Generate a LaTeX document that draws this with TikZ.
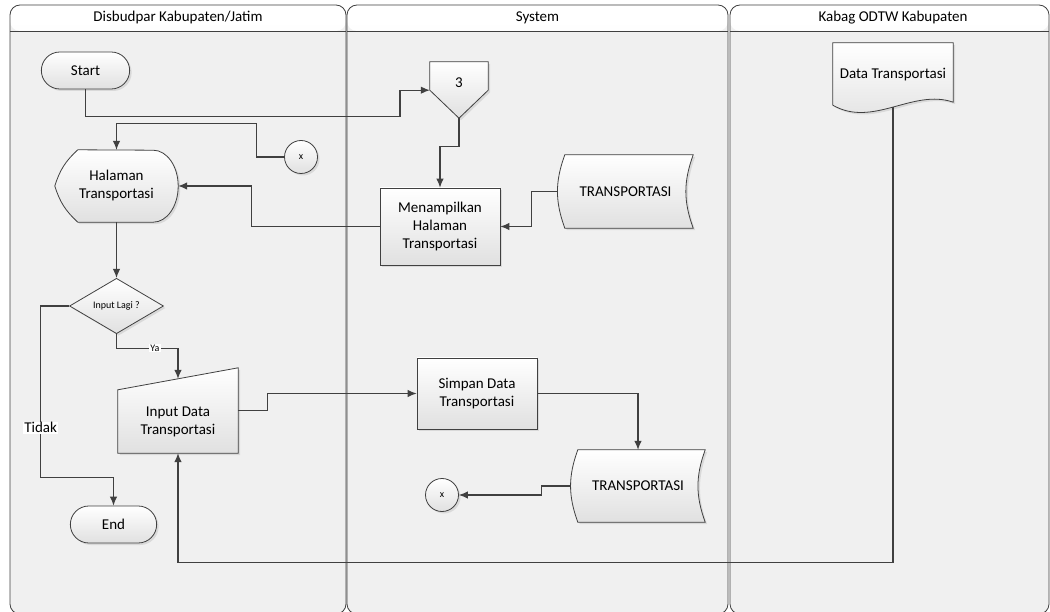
\documentclass[tikz,border=0pt]{standalone}
\usepackage{fontspec}
\setmainfont{Carlito}
\usetikzlibrary{shapes.misc,shapes.geometric,arrows.meta,calc,shadows,backgrounds}
\definecolor{linegray}{HTML}{404040}
\tikzset{>={Latex[length=9pt,width=7.5pt]}}

\begin{document}
\begin{tikzpicture}[x=1pt, y=1pt, node distance=120pt,
    every node/.style={font=\fontsize{15}{18}\selectfont, align=center},
    boxfill/.style={draw=linegray, line width=0.8pt, top color=white, bottom color=black!12,
      drop shadow={shadow xshift=2pt, shadow yshift=-2pt, opacity=0.2}},
    terminal/.style={rounded rectangle, boxfill, minimum width=95pt, minimum height=37pt},
    process/.style={rectangle, boxfill, minimum width=120pt},
    decision/.style={diamond, boxfill, inner sep=0pt, minimum width=94pt, minimum height=55pt, font=\fontsize{10}{12}\selectfont},
    onpage/.style={circle, boxfill, minimum size=33pt, inner sep=0pt, font=\fontsize{10}{12}\selectfont},
    textonly/.style={rectangle, inner sep=0pt},
    flow/.style={draw=linegray, line width=1.1pt, ->},
    tag/.style={fill=white, inner sep=1pt},
    lane/.style={draw=linegray, line width=0.8pt, rounded corners=10pt, fill=black!6,
      path picture={\shade[top color=white, bottom color=black!6]
        (path picture bounding box.north west) rectangle ([yshift=-26pt]path picture bounding box.north east);}}]
    \useasboundingbox (0,0) rectangle (1050,-612);

    % Lanes
    \begin{scope}[on background layer]
        \draw[lane] (10,-5) rectangle (346,-614);
        \draw[lane] (347,-5) rectangle (728,-614);
        \draw[lane] (730,-5) rectangle (1049,-614);
    \end{scope}
    \node (dis) at (178,-18) {Disbudpar Kabupaten/Jatim};
    \node (sys) at (537.5,-18) {System};
    \node (kab) at (893,-18) {Kabag ODTW Kabupaten};
    \draw[linegray, line width=0.8pt] (10,-31) -- (346,-31) (347,-31) -- (728,-31) (730,-31) -- (1049,-31);

    % Nodes
    \node[terminal] (start) at (85.5,-70.5) {Start};
    \node[textonly, minimum width=123pt, minimum height=72pt] (halaman) [below of=start, xshift=31pt, yshift=4.5pt] {Halaman\\Transportasi};
    \node[decision] (lagi) [below of=halaman] {Input Lagi ?};
    \node[textonly, minimum width=120pt, minimum height=63pt] (input) [below of=lagi, xshift=61.5pt, yshift=4.5pt] {Input Data\\Transportasi};
    \node[terminal, minimum width=93pt] (end) [below of=input, xshift=-64.5pt, yshift=17pt] {End};
    \node[onpage] (x1) [right of=start, xshift=95.5pt, yshift=-86.5pt] {x};
    \node[textonly, minimum width=58pt, minimum height=42pt] (off) [right of=x1, xshift=38pt, yshift=74pt] {3};
    \node[process, minimum height=77pt] (tampil) [below of=off, xshift=-19pt, yshift=-23.5pt] {Menampilkan\\Halaman\\Transportasi};
    \node[textonly, minimum width=135pt, minimum height=73pt] (store1) [right of=tampil, xshift=65.5pt, yshift=35pt] {TRANSPORTASI};
    \node[process, minimum height=71pt] (simpan) [below of=tampil, xshift=37pt, yshift=-47pt] {Simpan Data\\Transportasi};
    \node[textonly, minimum width=134pt, minimum height=72pt] (store2) [below of=simpan, xshift=161pt, yshift=27.5pt] {TRANSPORTASI};
    \node[onpage] (x2) [left of=store2, xshift=-76pt, yshift=-9pt] {x};
    \node[textonly, minimum width=120pt, minimum height=64pt] (doc) [right of=store1, xshift=147.5pt, yshift=116.5pt] {Data Transportasi};

    % Shapes behind the text nodes
    \begin{scope}[on background layer]
        \draw[boxfill] ($(halaman.north west)+(23,0)$) to[bend right=15] (halaman.west) to[bend right=15] ($(halaman.south west)+(23,0)$)
            -- ($(halaman.south east)+(-25,0)$) arc[start angle=-90, end angle=90, x radius=25, y radius=36] -- cycle;
        \draw[boxfill] (input.south west) -- (input.south east) -- ($(input.north east)+(0,22)$) -- (input.north west) -- cycle;
        \draw[boxfill] (off.north west) -- (off.north east) -- ($(off.south east)+(0,14)$) -- ($(off.south)+(0,-14)$) -- ($(off.south west)+(0,14)$) -- cycle;
        \draw[boxfill] ($(store1.north west)+(7,0)$) to[bend right=20] ($(store1.south west)+(7,0)$) -- (store1.south east) to[bend left=20] (store1.north east) -- cycle;
        \draw[boxfill] ($(store2.north west)+(7,0)$) to[bend right=20] ($(store2.south west)+(7,0)$) -- (store2.south east) to[bend left=20] (store2.north east) -- cycle;
        \draw[boxfill] (doc.north west) -- (doc.north east) -- ($(doc.south east)+(0,5)$)
            .. controls ($(doc.south)+(20,19)$) and ($(doc.south)+(-20,-21)$) .. ($(doc.south west)+(0,2)$) -- cycle;
    \end{scope}

    % Arrows
    \draw[flow] (start.south) |- (400,-116.5) |- ($(off.south west)+(0,14)$);
    \draw[flow] ($(off.south)+(0,-14)$) -- ++(0,-28) -| (tampil.north);
    \draw[flow] (x1.west) -- ++(-28,0) |- ($(halaman.north)+(0,26)$) -- (halaman.north);
    \draw[flow] (tampil.west) -- ++(-128,0) |- (halaman.east);
    \draw[flow] (store1.west) -- ++(-26,0) |- (tampil.east);
    \draw[flow] (halaman.south) -- (lagi.north);
    \draw[flow] (lagi.west) -- ++(-28.5,0) |- ($(end.north)+(0,28)$) node[tag, pos=0.355] {Tidak} -- (end.north);
    \draw[flow] (lagi.south) -- ++(0,-14) -| ($(input.north)+(0,11)$) node[tag, pos=0.313, font=\fontsize{10}{12}\selectfont] {Ya};
    \draw[flow] ($(input.east)+(0,11)$) -- ++(29,0) |- (simpan.west);
    \draw[flow] (simpan.east) -| (store2.north);
    \draw[flow] (store2.west) -- ++(-29,0) |- (x2.east);
    \draw[flow] (doc.south) -- ++(0,-455) -| (input.south);
\end{tikzpicture}
\end{document}
